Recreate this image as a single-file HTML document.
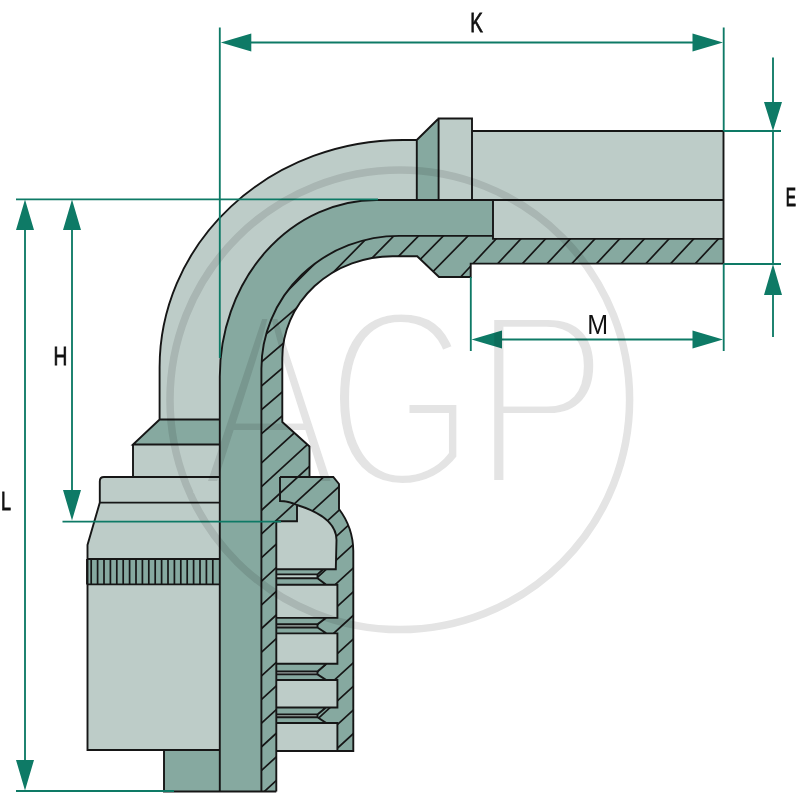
<!DOCTYPE html>
<html lang="en">
<head>
<meta charset="utf-8">
<title>AGP fitting dimension drawing</title>
<style>
html,body{margin:0;padding:0;background:#fff;}
body{width:800px;height:800px;overflow:hidden;}
svg{display:block;}
</style>
</head>
<body>
<svg width="800" height="800" viewBox="0 0 800 800" role="img" aria-label="Hose fitting dimension drawing">
<rect width="800" height="800" fill="#fff"/>
<path fill="#bdccc8" d="M416.8,140 L403.10,140.00 A243.5,227.3 0 0 0 159.60,367.30 L159.6,419.5 L219.8,419.5 L219.80,376.60 A156.8,176.6 0 0 1 376.60,200.00 L416.8,200 Z"/>
<path fill="#86a9a0" d="M416.8,140 L438.6,118.5 L438.6,200 L416.8,200 Z"/>
<rect fill="#bdccc8" x="438.6" y="118.5" width="33.4" height="81.5"/>
<rect fill="#bdccc8" x="472" y="131" width="251.5" height="69"/>
<rect fill="#bdccc8" x="493" y="200" width="230.5" height="39"/>
<path fill="#86a9a0" d="M493,200 L376.60,200.00 A156.8,176.6 0 0 0 219.80,376.60 L219.8,791.5 L261.4,791.5 L261.40,368.70 A137.9,132.8 0 0 1 399.30,235.90 L493,235.8 Z"/>
<path fill="#86a9a0" d="M493,235.8 L399.30,235.90 A137.9,132.8 0 0 0 261.40,368.70 L261.4,791.5 L276.3,791.5 L276.3,521.2 L297,521.2 L297,505 L280,501 L280,477 L309.5,477 L309.5,446.5 L282.3,422 L282.30,358.10 A110.3,101.9 0 0 1 392.60,256.20 L417.2,256.2 L439,277 L470.7,277 L470.7,263.6 L723.5,263.6 L723.5,238.9 L493,238.9 Z"/>
<path fill="#86a9a0" d="M280,477 L333.3,477 L339,484 L339,509 A71,71 0 0 1 353.3,551 L353.3,751 L337.4,751 L337.4,723 L326.3,723 L317.5,717.25 L317.5,714.4 L326,707.5 L337.4,707.5 L337.4,680 L326.3,680 L317.5,674.4 L317.5,671.4 L326.5,663.75 L337.4,663.75 L337.4,633.4 L326.3,633.4 L317.5,627.5 L317.5,624.2 L326,617.9 L337.4,617.9 L337.4,584.8 L326.3,584.8 L317.5,578.2 L317.5,574.4 L323.4,569.2 L335.8,569.2 L336.5,540 C336.5,527 326,514 297,505 Q288,501 280,501 Z"/>
<path fill="#bdccc8" d="M297,505 C326,514 336.5,527 336.5,540 L335.8,569.2 L276.8,569.2 L276.8,521.2 L297,521.2 Z"/>
<rect fill="#bdccc8" x="276.8" y="584.8" width="60.60" height="33.10"/>
<rect fill="#bdccc8" x="276.8" y="633.4" width="60.60" height="30.35"/>
<rect fill="#bdccc8" x="276.8" y="680" width="60.60" height="27.50"/>
<rect fill="#bdccc8" x="276.8" y="723" width="60.60" height="28.00"/>
<path fill="#86a9a0" d="M276.8,569.2 L323.4,569.2 L317.5,574.4 L276.8,574.4 Z"/>
<path fill="#bdccc8" d="M276.8,574.4 L317.5,574.4 L317.5,578.2 L276.8,578.2 Z"/>
<path fill="#86a9a0" d="M276.8,578.2 L317.5,578.2 L326.3,584.8 L276.8,584.8 Z"/>
<path fill="#86a9a0" d="M276.8,617.9 L326,617.9 L317.5,624.2 L276.8,624.2 Z"/>
<path fill="#a9b4b1" d="M276.8,624.2 L317.5,624.2 L317.5,627.5 L276.8,627.5 Z"/>
<path fill="#86a9a0" d="M276.8,627.5 L317.5,627.5 L326.3,633.4 L276.8,633.4 Z"/>
<path fill="#86a9a0" d="M276.8,663.75 L326.5,663.75 L317.5,671.4 L276.8,671.4 Z"/>
<path fill="#98a3a0" d="M276.8,671.4 L317.5,671.4 L317.5,674.4 L276.8,674.4 Z"/>
<path fill="#86a9a0" d="M276.8,674.4 L317.5,674.4 L326.3,680 L276.8,680 Z"/>
<path fill="#86a9a0" d="M276.8,707.5 L326,707.5 L317.5,714.4 L276.8,714.4 Z"/>
<path fill="#a9b4b1" d="M276.8,714.4 L317.5,714.4 L317.5,717.25 L276.8,717.25 Z"/>
<path fill="#86a9a0" d="M276.8,717.25 L317.5,717.25 L326.3,723 L276.8,723 Z"/>
<path fill="#86a9a0" d="M159.6,419.5 L219.8,419.5 L219.8,444.5 L133,444.5 Z"/>
<rect fill="#bdccc8" x="133" y="444.5" width="86.80000000000001" height="32.5"/>
<path fill="#bdccc8" d="M104,477 Q99.8,477 99.8,481.2 L99.8,502.6 L87.5,545 L87.5,750 L219.8,750 L219.8,477 Z"/>
<rect fill="#86a9a0" x="87" y="559" width="132.8" height="25.4"/>
<rect fill="#86a9a0" x="164" y="750" width="55.80000000000001" height="41.5"/>
<clipPath id="hc"><path d="M493,235.8 L399.30,235.90 A137.9,132.8 0 0 0 261.40,368.70 L261.4,791.5 L276.3,791.5 L276.3,521.2 L297,521.2 L297,505 L280,501 L280,477 L309.5,477 L309.5,446.5 L282.3,422 L282.30,358.10 A110.3,101.9 0 0 1 392.60,256.20 L417.2,256.2 L439,277 L470.7,277 L470.7,263.6 L723.5,263.6 L723.5,238.9 L493,238.9 Z"/><path d="M280,477 L333.3,477 L339,484 L339,509 A71,71 0 0 1 353.3,551 L353.3,751 L337.4,751 L337.4,723 L326.3,723 L317.5,717.25 L317.5,714.4 L326,707.5 L337.4,707.5 L337.4,680 L326.3,680 L317.5,674.4 L317.5,671.4 L326.5,663.75 L337.4,663.75 L337.4,633.4 L326.3,633.4 L317.5,627.5 L317.5,624.2 L326,617.9 L337.4,617.9 L337.4,584.8 L326.3,584.8 L317.5,578.2 L317.5,574.4 L323.4,569.2 L335.8,569.2 L336.5,540 C336.5,527 326,514 297,505 Q288,501 280,501 Z"/></clipPath>
<path clip-path="url(#hc)" fill="none" stroke="#161616" stroke-width="1.7" d="M455.00,282.99 L740.00,-22.64 M455.00,309.47 L740.00,3.85 M455.00,335.96 L740.00,30.34 M455.00,362.45 L740.00,56.82 M455.00,388.94 L740.00,83.31 M455.00,415.42 L740.00,109.80 M455.00,441.91 L740.00,136.29 M455.00,468.40 L740.00,162.77 M455.00,494.89 L740.00,189.26 M455.00,521.37 L740.00,215.75 M300.00,306.22 L500.00,102.70 M300.00,331.41 L500.00,127.88 M300.00,356.59 L500.00,153.07 M300.00,381.78 L500.00,178.26 M300.00,406.96 L500.00,203.44 M268.00,310.50 L332.00,246.50 M255.00,439.22 L316.00,387.12 M255.00,415.32 L316.00,363.22 M255.00,391.42 L316.00,339.32 M255.00,367.52 L316.00,315.42 M255.00,343.62 L316.00,291.52 M255.00,468.96 L360.00,372.75 M255.00,492.61 L360.00,396.40 M255.00,516.26 L360.00,420.05 M255.00,539.91 L360.00,443.70 M255.00,563.56 L360.00,467.35 M255.00,587.21 L360.00,491.00 M255.00,610.86 L360.00,514.65 M255.00,634.51 L360.00,538.30 M255.00,658.16 L360.00,561.95 M255.00,681.81 L360.00,585.60 M255.00,705.46 L360.00,609.25 M255.00,729.11 L360.00,632.90 M255.00,752.76 L360.00,656.55 M255.00,776.41 L360.00,680.20 M255.00,800.06 L360.00,703.85 M255.00,823.71 L360.00,727.50 M255.00,847.36 L360.00,751.15"/>
<path fill="none" stroke="#161616" stroke-width="1.9" stroke-linejoin="miter" d="M723.5,131 L472,131 M472,200 L472,118.5 L438.6,118.5 L438.6,200 M438.6,118.5 L416.8,140 L416.8,200 M416.8,140 L403.10,140.00 A243.5,227.3 0 0 0 159.60,367.30 L159.6,419.5 M723.5,131 L723.5,263.6 M723.5,200 L376.60,200.00 A156.8,176.6 0 0 0 219.80,376.60 L219.8,791.5 M493,200 L493,238.9 L723.5,238.9 M493,235.8 L399.30,235.90 A137.9,132.8 0 0 0 261.40,368.70 L261.4,791.5 L276.3,791.5 M723.5,263.6 L470.7,263.6 L470.7,277 L439,277 L417.2,256.2 L392.60,256.20 A110.3,101.9 0 0 0 282.30,358.10 L282.3,422 L309.5,446.5 L309.5,477 M297,505 L297,521.2 L276.3,521.2 L276.3,791.5 M280,477 L333.3,477 L339,484 L339,509 A71,71 0 0 1 353.3,551 L353.3,751 L337.4,751 L337.4,723 L326.3,723 L317.5,717.25 L317.5,714.4 L326,707.5 L337.4,707.5 L337.4,680 L326.3,680 L317.5,674.4 L317.5,671.4 L326.5,663.75 L337.4,663.75 L337.4,633.4 L326.3,633.4 L317.5,627.5 L317.5,624.2 L326,617.9 L337.4,617.9 L337.4,584.8 L326.3,584.8 L317.5,578.2 L317.5,574.4 L323.4,569.2 L335.8,569.2 L336.5,540 C336.5,527 326,514 297,505 Q288,501 280,501  L280,477 M276.3,569.2 L335.8,569.2 M276.3,574.4 L317.5,574.4 M276.3,578.2 L317.5,578.2 M276.3,584.8 L337.4,584.8 M276.3,617.9 L337.4,617.9 M276.3,624.2 L317.5,624.2 M276.3,627.5 L317.5,627.5 M276.3,633.4 L337.4,633.4 M276.3,663.75 L337.4,663.75 M276.3,671.4 L317.5,671.4 M276.3,674.4 L317.5,674.4 M276.3,680 L337.4,680 M276.3,707.5 L337.4,707.5 M276.3,714.4 L317.5,714.4 M276.3,717.25 L317.5,717.25 M276.3,723 L337.4,723 M276.3,751 L353.3,751 M159.6,419.5 L219.8,419.5 M159.6,419.5 L133,444.5 L219.8,444.5 M133,444.5 L133,477 M219.8,477 L104,477 Q99.8,477 99.8,481.2 L99.8,502.6 L87.5,545 L87.5,750 L219.8,750 M99.8,502.6 L219.8,502.6 M86.6,559 L219.8,559 M86.6,584.4 L219.8,584.4 M87,559 L87,584.4 M164,750 L164,791.5 L276.3,791.5"/>
<path fill="none" stroke="#161616" stroke-width="1.7" d="M91.20,559 L91.20,584.4 M97.60,559 L97.60,584.4 M104.00,559 L104.00,584.4 M110.40,559 L110.40,584.4 M116.80,559 L116.80,584.4 M123.20,559 L123.20,584.4 M129.60,559 L129.60,584.4 M136.00,559 L136.00,584.4 M142.40,559 L142.40,584.4 M148.80,559 L148.80,584.4 M155.20,559 L155.20,584.4 M161.60,559 L161.60,584.4 M168.00,559 L168.00,584.4 M174.40,559 L174.40,584.4 M180.80,559 L180.80,584.4 M187.20,559 L187.20,584.4 M193.60,559 L193.60,584.4 M200.00,559 L200.00,584.4 M206.40,559 L206.40,584.4 M212.80,559 L212.80,584.4"/>
<path fill="none" stroke="#0e7a66" stroke-width="1.85" d="M219.8,27.5 L219.8,358 M723.7,27.5 L723.7,131 M250,42.5 L693,42.5 M723.7,264 L723.7,351 M470.8,277 L470.8,351 M501,339.5 L693,339.5 M723.7,131 L781,131 M723.7,264 L781,264 M773,57.5 L773,103 M773,295 L773,337 M773,131 L773,264 M16,199.3 L378,199.3 M25,229 L25,761 M72,229 L72,491 M62.5,521.6 L281,521.6 M16,791 L174,791"/>
<path fill="#0e7a66" d="M220.8,42.5 L251.30,33.50 L251.30,51.50 Z M723,42.5 L692.50,51.50 L692.50,33.50 Z M471.5,339.5 L502.00,330.50 L502.00,348.50 Z M723,339.5 L692.50,348.50 L692.50,330.50 Z M773,131 L764.00,102.00 L782.00,102.00 Z M773,264 L782.00,295.00 L764.00,295.00 Z M25,199.5 L34.00,230.00 L16.00,230.00 Z M72,199.5 L81.00,230.00 L63.00,230.00 Z M72,520.5 L63.00,490.00 L81.00,490.00 Z M25,790.5 L16.00,760.00 L34.00,760.00 Z"/>
<g font-family="'Liberation Sans', Arial, sans-serif" fill="#111"><text transform="translate(470.25,32.1) scale(0.705,1)" x="0" y="0" font-size="26.76" stroke="#111" stroke-width="0.8">K</text><text transform="translate(587.33,333.8) scale(0.896,1)" x="0" y="0" font-size="27.93">M</text><text transform="translate(785.84,206.2) scale(0.58,1)" x="0" y="0" font-size="26.4" stroke="#111" stroke-width="1.1">E</text><text transform="translate(53.54,364.6) scale(0.733,1)" x="0" y="0" font-size="26.18" stroke="#111" stroke-width="0.8">H</text><text transform="translate(1.1,509.9) scale(0.675,1)" x="0" y="0" font-size="26.62" stroke="#111" stroke-width="0.8">L</text></g>
<g style="mix-blend-mode:multiply"><circle cx="399.8" cy="399.8" r="229.8" fill="none" stroke="#e4e4e4" stroke-width="7.5"/><g font-family="'Liberation Sans', Arial, sans-serif" fill="#e4e4e4" stroke="#fff" stroke-linejoin="miter"><text transform="translate(200.3,487) scale(0.82,1)" font-size="252.5" stroke-width="12">A</text><text transform="translate(325.8,487) scale(0.757,1)" font-size="254" stroke-width="12">G</text><text transform="translate(472.6,486.3) scale(0.8146,1)" font-size="251" stroke-width="12">P</text></g></g>
</svg>
</body>
</html>
